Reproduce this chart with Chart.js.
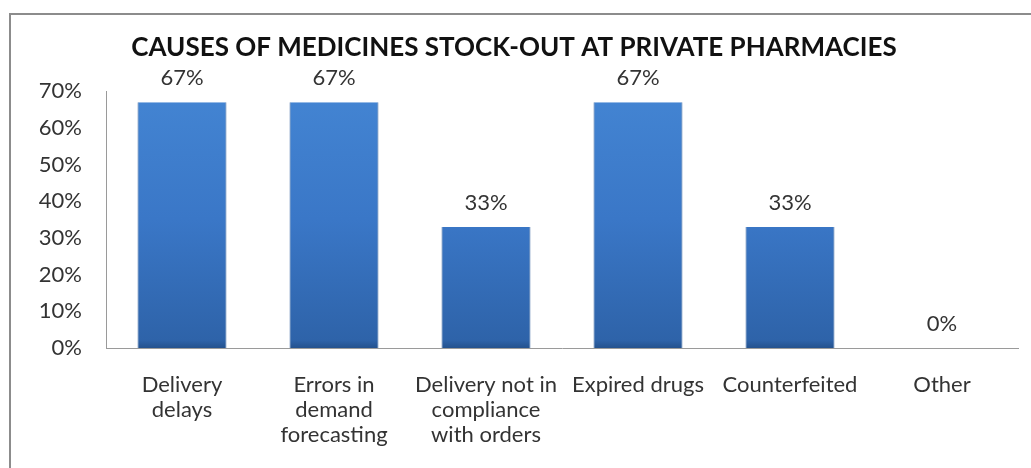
<!DOCTYPE html>
<html>
<head>
<meta charset="utf-8">
<script src="https://cdn.jsdelivr.net/npm/chart.js@4.4.1/dist/chart.umd.min.js"></script>
<style>
  html, body { margin: 0; padding: 0; background: #fff; }
  #wrap { position: relative; width: 1031px; height: 468px; }
  #frame {
    position: absolute; left: 9px; top: 13px; right: -4px; bottom: -4px;
    border-top: 2px solid #8c8c8c; border-left: 2px solid #8c8c8c;
  }
  canvas { position: absolute; left: 0; top: 0; }
</style>
</head>
<body>
<div id="wrap">
  <div id="frame"></div>
  <canvas id="stockout" width="1031" height="468"></canvas>
</div>
<script>
const categories = [
  ['Delivery', 'delays'],
  ['Errors in', 'demand', 'forecasting'],
  ['Delivery not in', 'compliance', 'with orders'],
  ['Expired drugs'],
  ['Counterfeited'],
  ['Other']
];
const shares = [67, 67, 33, 67, 33, 0];
const yTicks = [0, 10, 20, 30, 40, 50, 60, 70];

const FONT = 'Lato, "Open Sans", sans-serif';
const TEXT = '#333333';

// gradient bar face, lighter on top like an embossed column
function barFill(ctx) {
  const { chart } = ctx;
  const area = chart.chartArea;
  if (!area) return '#3b79c6';
  const el = ctx.element;
  const top = el && el.y != null ? el.y : area.top;
  const bottom = area.bottom;
  if (bottom - top < 2) return '#3b79c6';
  const g = chart.ctx.createLinearGradient(0, top, 0, bottom);
  g.addColorStop(0, '#6aa6e6');
  g.addColorStop(Math.min(6 / (bottom - top), 0.2), '#4384d2');
  g.addColorStop(0.5, '#3a77c7');
  g.addColorStop(0.97, '#2e63a9');
  g.addColorStop(1, '#24528e');
  return g;
}

const valueLabels = {
  id: 'valueLabels',
  afterDatasetsDraw(chart) {
    const { ctx } = chart;
    const meta = chart.getDatasetMeta(0);
    ctx.save();
    ctx.font = '22px ' + FONT;
    ctx.fillStyle = TEXT;
    ctx.textAlign = 'center';
    ctx.textBaseline = 'middle';
    meta.data.forEach((bar, i) => {
      ctx.fillText(shares[i] + '%', bar.x, bar.y - 24);
    });
    ctx.restore();
  }
};

new Chart(document.getElementById('stockout').getContext('2d'), {
  type: 'bar',
  data: {
    labels: categories,
    datasets: [{
      data: shares,
      backgroundColor: barFill,
      borderColor: '#2c5d9c',
      borderWidth: { left: 1, right: 1, top: 0, bottom: 0 },
      borderSkipped: false,
      categoryPercentage: 1,
      barPercentage: 0.585
    }]
  },
  options: {
    responsive: false,
    animation: false,
    layout: { padding: { left: 10, right: 13, top: 0, bottom: 0 } },
    plugins: {
      legend: { display: false },
      tooltip: { enabled: false },
      title: {
        display: true,
        text: 'CAUSES OF MEDICINES STOCK-OUT AT PRIVATE PHARMACIES',
        color: '#111',
        font: { family: FONT, size: 26, weight: 'bold' },
        padding: { top: 32, bottom: 28 }
      }
    },
    scales: {
      x: {
        afterFit: s => { s.height = 120; },
        grid: { display: false, drawTicks: false },
        border: { display: true, color: '#9a9a9a', width: 1 },
        ticks: {
          color: TEXT,
          font: { family: FONT, size: 22, lineHeight: 1.15 },
          padding: 24,
          maxRotation: 0,
          autoSkip: false
        }
      },
      y: {
        min: 0,
        max: 70,
        afterFit: s => { s.width = 96; },
        afterBuildTicks: s => { s.ticks = yTicks.map(v => ({ value: v })); },
        grid: { display: false, drawTicks: false },
        border: { display: true, color: '#9a9a9a', width: 1 },
        ticks: {
          color: TEXT,
          font: { family: FONT, size: 22 },
          padding: 24,
          callback: v => v + '%'
        }
      }
    }
  },
  plugins: [valueLabels]
});
</script>
</body>
</html>
